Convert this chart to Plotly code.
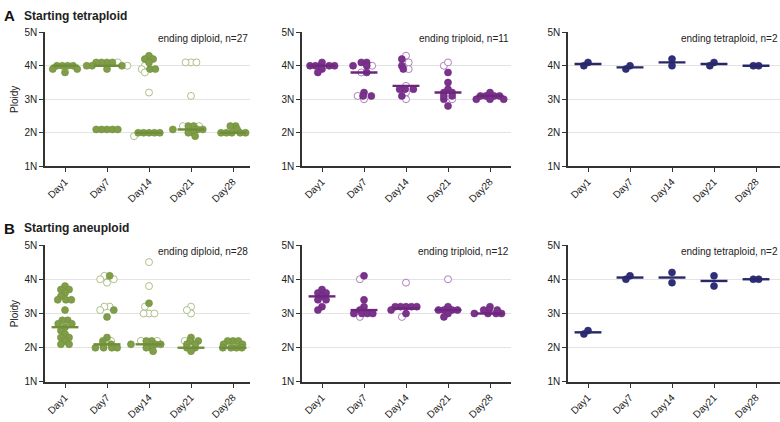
import math
import plotly.graph_objects as go

days = ["Day1", "Day7", "Day14", "Day21", "Day28"]
y_tick_vals = [1, 2, 3, 4, 5]
y_tick_text = ["1N", "2N", "3N", "4N", "5N"]

# ---- Row A: starting tetraploid ----
a_dip_filled = [
    [4.0, 4.0, 4.0, 4.0, 3.9, 3.9, 3.8],
    [4.1, 4.1, 4.1, 4.1, 4.0, 4.0, 4.0, 3.9, 2.1, 2.1, 2.1, 2.1, 2.1],
    [4.3, 4.2, 4.2, 4.1, 3.9, 3.9, 2.0, 2.0, 2.0, 2.0, 2.0],
    [2.2, 2.1, 2.1, 2.1, 2.0, 2.0, 1.9, 2.2],
    [2.2, 2.2, 2.1, 2.0, 2.0, 2.0, 2.0, 2.0],
]
a_dip_open = [
    [],
    [4.1, 4.0],
    [4.0, 3.9, 3.8, 3.2, 1.9],
    [4.1, 4.1, 4.1, 3.1, 2.2, 2.2],
    [],
]
a_dip_median = [4.0, 4.0, 2.0, 2.1, 2.0]

a_tri_filled = [
    [4.0, 4.0, 4.0, 4.0, 4.0, 4.1, 3.9, 3.8],
    [4.1, 4.1, 4.0, 4.0, 3.8, 3.2, 3.1, 3.1],
    [4.2, 4.0, 3.9, 3.3, 3.3, 3.3, 3.1],
    [3.8, 3.5, 3.3, 3.2, 3.2, 3.1, 3.0, 2.8, 3.1],
    [3.2, 3.1, 3.1, 3.0, 3.0, 3.1, 3.1, 3.0],
]
a_tri_open = [
    [],
    [4.0, 3.8, 3.0, 3.1],
    [4.3, 4.1, 4.1, 3.9, 3.4, 3.2, 3.0],
    [4.0, 4.1, 3.0],
    [],
]
a_tri_median = [4.0, 3.8, 3.4, 3.2, 3.1]

a_tet_filled = [
    [4.0, 4.1],
    [3.9, 4.0],
    [4.0, 4.2],
    [4.0, 4.1],
    [4.0, 4.0],
]
a_tet_open = [[], [], [], [], []]
a_tet_median = [4.05, 3.95, 4.1, 4.05, 4.0]

# ---- Row B: starting aneuploid ----
b_dip_filled = [
    [3.8, 3.7, 3.7, 3.6, 3.5, 3.4, 3.4, 3.4, 3.1, 2.8, 2.8, 2.7, 2.7,
     2.6, 2.5, 2.4, 2.3, 2.3, 2.2, 2.1, 2.1],
    [4.1, 3.1, 2.9, 2.3, 2.2, 2.1, 2.1, 2.0, 2.0, 2.0, 2.0],
    [3.3, 2.2, 2.2, 2.1, 2.1, 2.0, 2.0, 1.9, 2.1],
    [2.3, 2.2, 2.2, 2.1, 2.0, 2.0, 1.9, 2.1],
    [2.2, 2.2, 2.2, 2.1, 2.1, 2.0, 2.0, 2.0, 2.0],
]
b_dip_open = [
    [],
    [4.1, 4.0, 3.9, 4.0, 3.2, 3.2, 3.1, 2.2],
    [4.5, 3.8, 3.0, 3.0, 3.0, 3.2, 2.2, 2.2],
    [3.2, 3.0, 3.1, 2.2],
    [],
]
b_dip_median = [2.6, 2.1, 2.1, 2.0, 2.0]

b_tri_filled = [
    [3.7, 3.6, 3.6, 3.5, 3.4, 3.4, 3.2, 3.1],
    [4.1, 3.4, 3.2, 3.1, 3.0, 3.0, 3.0, 3.0],
    [3.2, 3.2, 3.2, 3.2, 3.2, 3.1, 3.0],
    [3.2, 3.1, 3.1, 3.1, 3.0, 2.9, 3.1],
    [3.2, 3.1, 3.0, 3.0, 3.0, 3.0, 3.1, 3.1],
]
b_tri_open = [
    [],
    [4.0, 2.9],
    [3.9, 2.9],
    [4.0],
    [],
]
b_tri_median = [3.5, 3.1, 3.15, 3.1, 3.0]

b_tet_filled = [
    [2.4, 2.5],
    [4.0, 4.1],
    [3.9, 4.2],
    [3.8, 4.1],
    [4.0, 4.0],
]
b_tet_open = [[], [], [], [], []]
b_tet_median = [2.45, 4.05, 4.05, 3.95, 4.0]

panel_labels = ["ending diploid, n=27", "ending triploid, n=11", "ending tetraploid, n=2",
                "ending diploid, n=28", "ending triploid, n=12", "ending tetraploid, n=2"]

GREEN = ("rgb(128,158,72)", "rgb(112,142,58)", "rgb(165,185,125)")
PURPLE = ("rgb(123,50,140)", "rgb(108,38,124)", "rgb(165,115,180)")
NAVY = ("rgb(46,46,122)", "rgb(40,40,105)", "rgb(120,120,170)")

panels = [
    (a_dip_filled, a_dip_open, a_dip_median, GREEN),
    (a_tri_filled, a_tri_open, a_tri_median, PURPLE),
    (a_tet_filled, a_tet_open, a_tet_median, NAVY),
    (b_dip_filled, b_dip_open, b_dip_median, GREEN),
    (b_tri_filled, b_tri_open, b_tri_median, PURPLE),
    (b_tet_filled, b_tet_open, b_tet_median, NAVY),
]

W, H = 780, 422
col_px = [(45, 250), (302, 511), (568, 780)]
row_px = [(27, 165), (246, 387)]
CAT_PX = 42.0
FIRST_PX = 20.0
MARKER = 7.0
COLLIDE = 5.4


def swarm(values, py_per_unit):
    """Beeswarm offsets (in pixels); rows of identical values are re-centred."""
    order = sorted(range(len(values)), key=lambda i: -values[i])
    placed = []
    offs = [0.0] * len(values)
    for i in order:
        yp = values[i] * py_per_unit
        cands = [0.0]
        near = []
        for (xj, yj) in placed:
            dy = abs(yp - yj)
            if dy < COLLIDE:
                dx = math.sqrt(COLLIDE ** 2 - dy ** 2)
                near.append((xj, dx))
                cands += [xj + dx, xj - dx]
        best = 0.0
        for c in sorted(cands, key=lambda v: (round(abs(v), 6), v)):
            if all(abs(c - xj) >= dx - 1e-6 for xj, dx in near):
                best = c
                break
        offs[i] = best
        placed.append((best, yp))
    groups = {}
    for i, v in enumerate(values):
        groups.setdefault(round(v, 3), []).append(i)
    for idx in groups.values():
        if len(idx) >= 2:
            mean = sum(offs[i] for i in idx) / len(idx)
            for i in idx:
                offs[i] -= mean
    return offs


fig = go.Figure()
for p, (filled, opened, med, colors) in enumerate(panels):
    r, c = divmod(p, 3)
    k = "" if p == 0 else str(p + 1)
    xa, ya = "x" + k, "y" + k
    x0, x1 = col_px[c]
    y0, y1 = row_px[r]
    py_per_unit = (y1 - y0) / 4.0
    fx, fy, ox, oy = [], [], [], []
    for d in range(len(days)):
        vals = list(filled[d]) + list(opened[d])
        offs = swarm(vals, py_per_unit)
        nf = len(filled[d])
        for j, v in enumerate(vals):
            xv = d + offs[j] / CAT_PX
            if j < nf:
                fx.append(xv); fy.append(v)
            else:
                ox.append(xv); oy.append(v)
    fig.add_trace(go.Scatter(x=ox, y=oy, mode="markers", xaxis=xa, yaxis=ya,
                             marker=dict(size=MARKER, color="white",
                                         line=dict(color=colors[2], width=0.9)),
                             showlegend=False, hoverinfo="y"))
    fig.add_trace(go.Scatter(x=fx, y=fy, mode="markers", xaxis=xa, yaxis=ya,
                             marker=dict(size=MARKER, color=colors[0],
                                         line=dict(color=colors[1], width=0.6)),
                             showlegend=False, hoverinfo="y"))
    lx, ly = [], []
    for d, m in enumerate(med):
        lx += [d - 0.32, d + 0.32, None]
        ly += [m, m, None]
    fig.add_trace(go.Scatter(x=lx, y=ly, mode="lines", xaxis=xa, yaxis=ya,
                             line=dict(color=colors[1], width=2.4),
                             showlegend=False, hoverinfo="skip"))

    width = x1 - x0
    xr = [-FIRST_PX / CAT_PX, (width - FIRST_PX) / CAT_PX]
    fig.layout["xaxis" + k] = dict(
        domain=[x0 / W, x1 / W], range=xr, anchor=ya,
        tickmode="array", tickvals=list(range(len(days))), ticktext=days,
        tickangle=-45, ticks="outside", ticklen=4, tickcolor="#333",
        showline=True, linecolor="#333", linewidth=1.5, showgrid=False,
        zeroline=False, tickfont=dict(size=10, color="#222"),
    )
    fig.layout["yaxis" + k] = dict(
        domain=[1 - y1 / H, 1 - y0 / H], range=[1, 5], anchor=xa,
        tickmode="array", tickvals=y_tick_vals, ticktext=y_tick_text,
        ticks="outside", ticklen=4, tickcolor="#333",
        showline=True, linecolor="#333", linewidth=1.5,
        showgrid=True, gridcolor="#e3e3e3", gridwidth=1, zeroline=False,
        tickfont=dict(size=10, color="#222"),
        title=dict(text="Ploidy" if c == 0 else "", font=dict(size=10, color="#222"),
                   standoff=4),
    )
    fig.add_annotation(xref=xa + " domain", yref=ya, x=1.0, y=4.8,
                       text=panel_labels[p], showarrow=False, xanchor="right",
                       yanchor="middle", font=dict(size=10, color="#222"))

fig.add_annotation(xref="paper", yref="paper", x=2 / W, y=1 - 10 / H, text="<b>A</b>",
                   showarrow=False, xanchor="left", yanchor="middle",
                   font=dict(size=15, color="#111"))
fig.add_annotation(xref="paper", yref="paper", x=22 / W, y=1 - 10 / H,
                   text="<b>Starting tetraploid</b>", showarrow=False, xanchor="left",
                   yanchor="middle", font=dict(size=12, color="#222"))
fig.add_annotation(xref="paper", yref="paper", x=2 / W, y=1 - 229 / H, text="<b>B</b>",
                   showarrow=False, xanchor="left", yanchor="middle",
                   font=dict(size=15, color="#111"))
fig.add_annotation(xref="paper", yref="paper", x=22 / W, y=1 - 229 / H,
                   text="<b>Starting aneuploid</b>", showarrow=False, xanchor="left",
                   yanchor="middle", font=dict(size=12, color="#222"))

fig.update_layout(
    width=W, height=H, margin=dict(l=0, r=0, t=0, b=0),
    paper_bgcolor="white", plot_bgcolor="white",
    font=dict(family="Liberation Sans, Arial, sans-serif", size=10, color="#222"),
)
fig.write_html("out.html", config={"displayModeBar": False},
               post_script="document.body.style.margin='0';"
                           "document.body.style.overflow='hidden';")
